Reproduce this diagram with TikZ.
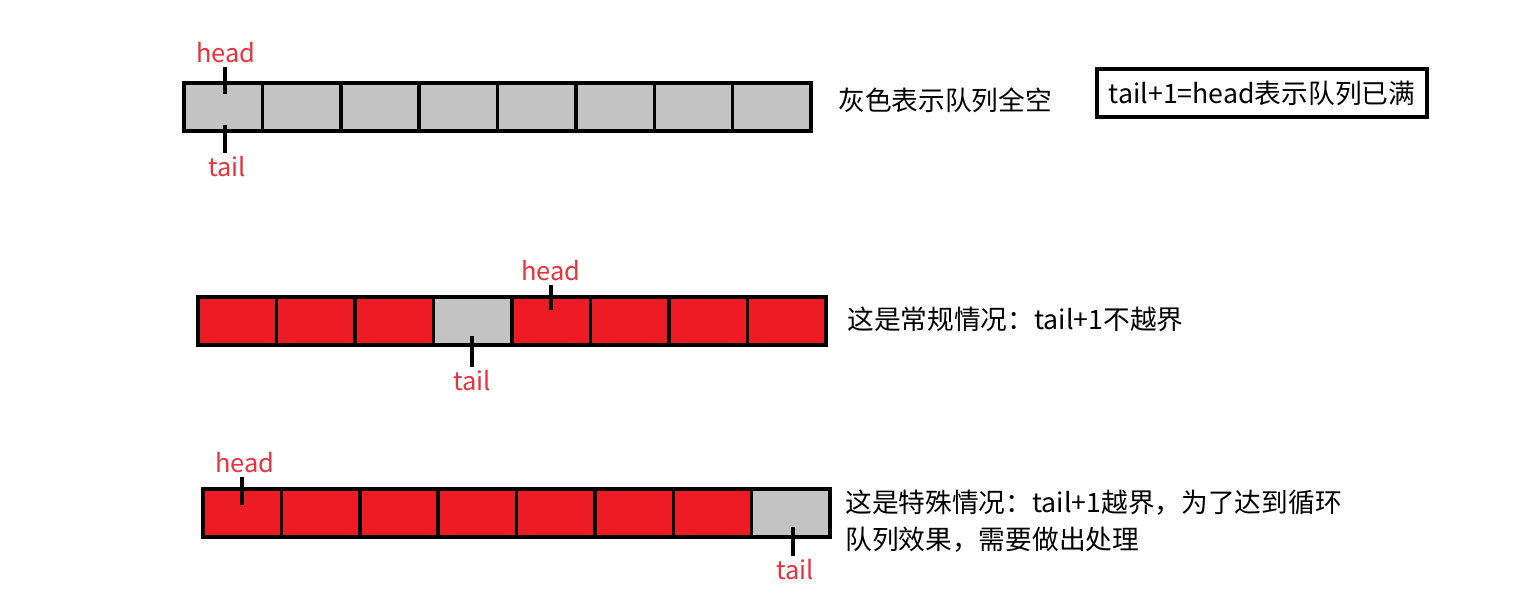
\documentclass[tikz,border=0pt]{standalone}
\usepackage{fontspec}
\setmainfont{Noto Sans CJK SC}
\definecolor{qred}{HTML}{ED1C24}
\definecolor{qgray}{HTML}{C3C3C3}
\definecolor{qlabel}{HTML}{E8323E}

\begin{document}
\begin{tikzpicture}[
  x=0.02cm, y=-0.02cm,
  gcell/.style={draw=black, line width=2pt, fill=qgray},
  rcell/.style={draw=black, line width=2pt, fill=qred},
  lbl/.style={text=qlabel, font=\fontsize{14.5}{17}\selectfont, inner sep=2pt},
  ptr/.style={line width=2pt},
  note/.style={anchor=west, font=\fontsize{15.2}{21}\selectfont, inner sep=0pt},
]
\useasboundingbox (0,0) rectangle (1538,611);

% all empty
\foreach \i in {0,...,7}
  \draw [gcell] (184+\i*78.375,83) rectangle ++(78.375,48);
\node [lbl] (head1) at (226,53) {head};
\node [lbl] (tail1) at (227,167) {tail};
\coordinate (head1e) at (225,94);
\coordinate (tail1e) at (225,125);
\draw [ptr] (head1.south -| head1e) -- (head1e);
\draw [ptr] (tail1.north -| tail1e) -- (tail1e);
\node [note] (empty) at (838,100) {灰色表示队列全空};
\node [draw, line width=2pt, minimum width=6.6cm, minimum height=0.96cm,
  font=\fontsize{15.2}{17}\selectfont] (full) at (1262,93) {tail+1=head表示队列已满};

% normal case
\foreach \i/\s in {0/rcell,1/rcell,2/rcell,3/gcell,4/rcell,5/rcell,6/rcell,7/rcell}
  \draw [\s] (198+\i*78.5,297) rectangle ++(78.5,48);
\node [lbl] (head2) at (551,271) {head};
\node [lbl] (tail2) at (472,381) {tail};
\coordinate (head2e) at (551,310);
\coordinate (tail2e) at (472,336);
\draw [ptr] (head2.south -| head2e) -- (head2e);
\draw [ptr] (tail2.north -| tail2e) -- (tail2e);
\node [note] (normal) at (847,319) {这是常规情况：tail+1不越界};

% wrap case
\foreach \i/\s in {0/rcell,1/rcell,2/rcell,3/rcell,4/rcell,5/rcell,6/rcell,7/gcell}
  \draw [\s] (203+\i*78.375,489) rectangle ++(78.375,48);
\node [lbl] (head3) at (245,463) {head};
\node [lbl] (tail3) at (795,570) {tail};
\coordinate (head3e) at (242,505);
\coordinate (tail3e) at (793,527);
\draw [ptr] (head3.south -| head3e) -- (head3e);
\draw [ptr] (tail3.north -| tail3e) -- (tail3e);
\node [note, align=left] (wrap) at (845,521.5) {这是特殊情况：tail+1越界，为了达到循环\\队列效果，需要做出处理};

\end{tikzpicture}
\end{document}
